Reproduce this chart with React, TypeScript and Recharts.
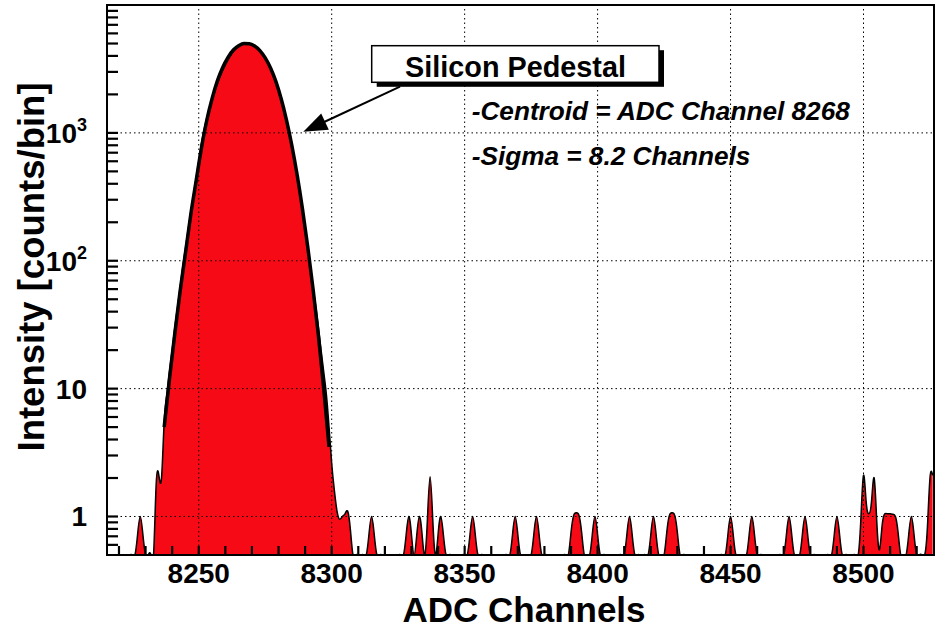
import React from 'react';
import { ComposedChart, Area, Line, XAxis, YAxis, ReferenceLine } from 'recharts';

// --- data (counts per ADC channel) ---
const Y_MIN = 0.5; // empty bins sit on the bottom of the log axis
const firstChannel = 8216;
const lastChannel = 8526;

// pedestal peak, channels 8233..8309
const pedestalStart = 8233;
const pedestalCounts = [
    0, 1.8, 2.1, 2.0, 5.5, 9, 13.6, 20, 30, 43,            // 8233-8242
    62, 90, 125, 175, 240, 325, 440, 600, 820, 1060,       // 8243-8252
    1300, 1560, 1830, 2120, 2430, 2750, 3080, 3400, 3730, 4030, // 8253-8262
    4300, 4550, 4750, 4900, 4990, 5050, 5000, 4930, 4800, 4640, // 8263-8272
    4420, 4150, 3850, 3530, 3200, 2850, 2500, 2150, 1830, 1540, // 8273-8282
    1270, 1040, 820, 620, 460, 335, 240, 172, 122, 88,     // 8283-8292
    61, 44, 30, 20, 13.5, 9, 5, 2.6, 1.6, 1.1,             // 8293-8302
    0.95, 1.0, 1.05, 1.1, 0.8, 0, 0                        // 8303-8309
];

// single counts scattered away from the pedestal [channel, counts]
const tailBins: [number, number][] = [
    [8227, 0.72], [8228, 1], [8229, 0.72],
    [8314, 0.72], [8315, 1], [8316, 0.72],
    [8328, 0.72], [8329, 1], [8330, 0.72],
    [8332, 0.72], [8333, 1], [8334, 0.72],
    [8336, 0.95], [8337, 2.05], [8338, 0.95],
    [8340, 0.72], [8341, 1], [8342, 0.72],
    [8352, 0.72], [8353, 1], [8354, 0.72],
    [8368, 0.72], [8369, 1], [8370, 0.72],
    [8376, 0.72], [8377, 1], [8378, 0.72],
    [8390, 0.75], [8391, 1.02], [8392, 1.07], [8393, 1.02], [8394, 0.75],
    [8398, 0.72], [8399, 1], [8400, 0.72],
    [8411, 0.72], [8412, 1], [8413, 0.72],
    [8420, 0.72], [8421, 1], [8422, 0.72],
    [8426, 0.75], [8427, 1.02], [8428, 1.07], [8429, 1.02], [8430, 0.75],
    [8449, 0.72], [8450, 1], [8451, 0.72],
    [8457, 0.72], [8458, 1], [8459, 0.72],
    [8471, 0.72], [8472, 1], [8473, 0.72],
    [8477, 0.72], [8478, 1], [8479, 0.72],
    [8489, 0.72], [8490, 1], [8491, 0.72],
    [8499, 0.95], [8500, 2.1], [8501, 1.3], [8502, 1.05], [8503, 1.3], [8504, 2.0], [8505, 0.9],
    [8506, 0.55], [8507, 0.85], [8508, 1.05], [8509, 1.05], [8510, 1.05], [8511, 1.04], [8512, 1.0], [8513, 0.75],
    [8517, 0.72], [8518, 1], [8519, 0.72],
    [8524, 0.8], [8525, 2.0], [8526, 2.1]
];

// gaussian fit curve as drawn [channel, counts]
const fitPoints: [number, number][] = [
    [8237, 5], [8239, 12], [8241, 27], [8243, 58], [8245, 115], [8247, 230],
    [8249, 420], [8251, 760], [8253, 1250], [8255, 1850], [8257, 2550], [8259, 3250],
    [8261, 3900], [8263, 4450], [8265, 4800], [8267, 5000], [8269, 4980], [8271, 4780],
    [8273, 4400], [8275, 3860], [8277, 3220], [8279, 2530], [8281, 1850], [8283, 1260],
    [8285, 800], [8287, 470], [8289, 255], [8291, 128], [8293, 60], [8295, 26],
    [8297, 10], [8299, 3.5]
];

const xTicks = [8220, 8230, 8240, 8250, 8260, 8270, 8280, 8290, 8300, 8310, 8320, 8330, 8340,
    8350, 8360, 8370, 8380, 8390, 8400, 8410, 8420, 8430, 8440, 8450, 8460, 8470, 8480, 8490,
    8500, 8510, 8520];
const xMajorTicks = [8250, 8300, 8350, 8400, 8450, 8500];
const yTicks = [0.6, 0.7, 0.8, 0.9, 1, 2, 3, 4, 5, 6, 7, 8, 9, 10, 20, 30, 40, 50, 60, 70, 80, 90,
    100, 200, 300, 400, 500, 600, 700, 800, 900, 1000, 2000, 3000, 4000, 5000, 6000, 7000, 8000, 9000];
const yMajorTicks = [1, 10, 100, 1000];
const yMajorLabels: Record<number, [string, string]> = { 1: ['1', ''], 10: ['10', ''], 100: ['10', '2'], 1000: ['10', '3'] };

// build chart rows
const pedestalMap = new Map<number, number>();
pedestalCounts.forEach((c, i) => pedestalMap.set(pedestalStart + i, c));
const tailMap = new Map<number, number>(tailBins);
const fitMap = new Map<number, number>(fitPoints);

const data: { channel: number; counts: number; fit: number | null }[] = [];
for (let ch = firstChannel; ch <= lastChannel; ch++) {
    const c = pedestalMap.get(ch) ?? tailMap.get(ch) ?? 0;
    data.push({ channel: ch, counts: c > 0 ? c : Y_MIN, fit: fitMap.get(ch) ?? null });
}

const FONT = '"Liberation Sans", Arial, Helvetica, sans-serif';
const PLOT = { left: 107, top: 5, right: 934, bottom: 555 };
const X_DOMAIN: [number, number] = [8215.5, 8526.5];
const Y_DOMAIN: [number, number] = [Y_MIN, 10000];
const TICK_LINE = { stroke: '#000', strokeWidth: 2.2 };
const THIN = 0.01; // tick-only axes need a non-zero size or recharts skips them

const XLabel = ({ x, payload }: any) => {
    if (!xMajorTicks.includes(payload.value)) return <g />;
    return (
        <text x={x} y={583} textAnchor="middle" fontSize={28} fontWeight="bold" fontFamily={FONT} fill="#000">
            {payload.value}
        </text>
    );
};

const YLabel = ({ y, payload }: any) => {
    const label = yMajorLabels[payload.value];
    if (!label) return <g />;
    return (
        <text x={87} y={y + 10} textAnchor="end" fontSize={28} fontWeight="bold" fontFamily={FONT} fill="#000">
            {label[0]}
            {label[1] && <tspan dy={-12} fontSize={18}>{label[1]}</tspan>}
        </text>
    );
};

// ROOT style: ticks point inward on all four sides, the majors twice as long
const xAxisCommon = { dataKey: 'channel', type: 'number' as const, domain: X_DOMAIN, allowDataOverflow: true, interval: 0 as const, axisLine: false, tickLine: TICK_LINE };
const yAxisCommon = { type: 'number' as const, scale: 'log' as const, domain: Y_DOMAIN, allowDataOverflow: true, interval: 0 as const, axisLine: false, tickLine: TICK_LINE };

const App = () => {
    return (
        <div style={{ position: 'absolute', left: 0, top: 0, width: 935, height: 628, background: '#fff' }}>
            <ComposedChart width={935} height={628} data={data} margin={{ top: 5, right: 1, bottom: 0, left: 0 }}>
                <XAxis xAxisId="majorB" {...xAxisCommon} ticks={xMajorTicks} tickSize={-17} tick={false} height={THIN} />
                <XAxis {...xAxisCommon} ticks={xTicks} tickSize={-9} height={73}
                    tick={(p: any) => <XLabel {...p} />} />
                <XAxis xAxisId="allT" orientation="top" {...xAxisCommon} ticks={xTicks} tickSize={-9} tick={false} height={THIN} />
                <XAxis xAxisId="majorT" orientation="top" {...xAxisCommon} ticks={xMajorTicks} tickSize={-17} tick={false} height={THIN} />

                <YAxis yAxisId="majorL" {...yAxisCommon} ticks={yMajorTicks} tickSize={-22} tick={false} width={THIN} />
                <YAxis {...yAxisCommon} ticks={yTicks} tickSize={-11} width={107}
                    tick={(p: any) => <YLabel {...p} />} />
                <YAxis yAxisId="allR" orientation="right" {...yAxisCommon} ticks={yTicks} tickSize={-11} tick={false} width={THIN} />
                <YAxis yAxisId="majorR" orientation="right" {...yAxisCommon} ticks={yMajorTicks} tickSize={-22} tick={false} width={THIN} />

                {xMajorTicks.map(v => (
                    <ReferenceLine key={'gx' + v} x={v} stroke="#000" strokeWidth={1} strokeDasharray="1.5 3" />
                ))}
                {yMajorTicks.map(v => (
                    <ReferenceLine key={'gy' + v} y={v} stroke="#000" strokeWidth={1} strokeDasharray="1.5 3" />
                ))}
                <Area
                    type="natural"
                    dataKey="counts"
                    baseValue={Y_MIN}
                    stroke="#000"
                    strokeWidth={1.5}
                    fill="#f50a16"
                    fillOpacity={1}
                    dot={false}
                    activeDot={false}
                    isAnimationActive={false}
                />
                <Line
                    type="monotone"
                    dataKey="fit"
                    stroke="#000"
                    strokeWidth={3.5}
                    dot={false}
                    activeDot={false}
                    connectNulls
                    isAnimationActive={false}
                />
            </ComposedChart>

            {/* frame, titles and annotation */}
            <svg width={935} height={628} style={{ position: 'absolute', left: 0, top: 0, pointerEvents: 'none' }}>
                <rect x={PLOT.left} y={PLOT.top} width={PLOT.right - PLOT.left} height={PLOT.bottom - PLOT.top}
                    fill="none" stroke="#000" strokeWidth={2} />
                <text x={524} y={622} textAnchor="middle" fontSize={35} fontWeight="bold" fontFamily={FONT}>ADC Channels</text>
                <text transform="translate(44,267) rotate(-90)" textAnchor="middle" fontSize={36.5} fontWeight="bold" fontFamily={FONT}>
                    Intensity [counts/bin]
                </text>

                <rect x={376.7} y={50.2} width={287.3} height={36.6} fill="#000" />
                <rect x={371.7} y={45.7} width={287.3} height={36.6} fill="#fff" stroke="#000" strokeWidth={1.5} />
                <text x={515.5} y={76.5} textAnchor="middle" fontSize={28.8} fontWeight="bold" fontFamily={FONT}>Silicon Pedestal</text>
                <line x1={400} y1={86.7} x2={322} y2={123} stroke="#000" strokeWidth={2} />
                <polygon points="303.3,131.7 321.2,113.4 328.8,129.8" fill="#000" />

                <text x={471.7} y={120} fontSize={26.2} fontWeight="bold" fontStyle="italic" fontFamily={FONT}>-Centroid = ADC Channel 8268</text>
                <text x={471.7} y={165} fontSize={26.2} fontWeight="bold" fontStyle="italic" fontFamily={FONT}>-Sigma = 8.2 Channels</text>
            </svg>
        </div>
    );
};

export default App;
